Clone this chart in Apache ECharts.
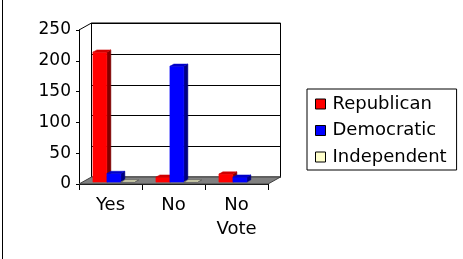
<!DOCTYPE html>
<html>
<head>
<meta charset="utf-8">
<script src="https://cdn.jsdelivr.net/npm/echarts@6/dist/echarts.min.js"></script>
<style>
html,body{margin:0;padding:0;background:#fff;}
#c{width:463px;height:259px;}
</style>
</head>
<body>
<div id="c"></div>
<script>
var categories = ['Yes', 'No', 'No Vote'];
var republican = [211, 8, 13];
var democratic = [14, 188, 8];
var independent = [0, 0, null];
var yTicks = [0, 50, 100, 150, 200, 250];
var seriesNames = ['Republican', 'Democratic', 'Independent'];

var FONT = 'DejaVu Sans';
var DEPTH = [12.5, -7];        // wall depth offset
var BAR_FRONT = 0.27;         // bar front position in depth
var BAR_DEPTH = 0.32;         // bar depth fraction
var BAR_W = 0.222;            // bar width fraction of category
var faces = [
  {front: '#FF0000', side: '#800000', top: '#D00000', stroke: null},
  {front: '#0000FF', side: '#000080', top: '#0000C8', stroke: null},
  {front: '#FFFFCC', side: '#C0C0A0', top: '#FFFFCC', stroke: '#606060'}
];

function wallsRender(params, api) {
  var catW = api.size([1, 0])[0];
  var p0 = api.coord([0, 0]);
  var pN = api.coord([categories.length - 1, 0]);
  var xl = p0[0] - catW / 2, xr = pN[0] + catW / 2;
  var y0 = p0[1];
  var yT = api.coord([0, yTicks[yTicks.length - 1]])[1];
  var dx = DEPTH[0], dy = DEPTH[1];
  var children = [];
  // back wall
  children.push({type: 'rect', shape: {x: xl + dx, y: yT + dy, width: xr - xl, height: y0 - yT},
    style: {fill: '#fff', stroke: '#000', lineWidth: 1}});
  // gridlines on back wall
  yTicks.forEach(function (t) {
    var y = Math.round(api.coord([0, t])[1] + dy) + 0.5;
    children.push({type: 'line', shape: {x1: xl + dx, y1: y, x2: xr + dx, y2: y},
      style: {stroke: '#000', lineWidth: 1}});
  });
  // left wall top edge
  children.push({type: 'line', shape: {x1: xl, y1: yT, x2: xl + dx, y2: yT + dy},
    style: {stroke: '#000', lineWidth: 1}});
  // floor
  children.push({type: 'polygon', shape: {points: [[xl, y0], [xr, y0], [xr + dx, y0 + dy], [xl + dx, y0 + dy]]},
    style: {fill: '#808080', stroke: '#404040', lineWidth: 1}});
  return {type: 'group', children: children, silent: true};
}

function makeBarRender(s) {
  return function (params, api) {
    var i = api.value(0);
    var v = api.value(1);
    if (v === null || isNaN(v)) return;
    var catW = api.size([1, 0])[0];
    var base = api.coord([i, 0]);
    var top = api.coord([i, v]);
    var bw = catW * BAR_W;
    var fx = DEPTH[0] * BAR_FRONT, fy = DEPTH[1] * BAR_FRONT;
    var ddx = DEPTH[0] * BAR_DEPTH, ddy = DEPTH[1] * BAR_DEPTH;
    var x0 = base[0] - 1.5 * bw + s * bw + fx;
    var x1 = x0 + bw;
    var yb = base[1] + fy;
    var yt = top[1] + fy;
    var f = faces[s];
    var st = f.stroke;
    var children = [];
    if (yb - yt > 0.5) {
      children.push({type: 'polygon', shape: {points: [[x1, yb], [x1 + ddx, yb + ddy], [x1 + ddx, yt + ddy], [x1, yt]]},
        style: {fill: f.side, stroke: st || f.side, lineWidth: st ? 1 : 0.5}});
      children.push({type: 'rect', shape: {x: x0, y: yt, width: bw, height: yb - yt},
        style: {fill: f.front, stroke: st || f.front, lineWidth: st ? 1 : 0.5}});
    }
    children.push({type: 'polygon', shape: {points: [[x0, yt], [x0 + ddx, yt + ddy], [x1 + ddx, yt + ddy], [x1, yt]]},
      style: {fill: f.top, stroke: st || f.top, lineWidth: st ? 1 : 0.5}});
    return {type: 'group', children: children};
  };
}

function toData(arr) {
  return arr.map(function (v, i) { return [i, v]; });
}

var chart = echarts.init(document.getElementById('c'), null, {renderer: 'canvas'});
var allSeries = [republican, democratic, independent];
var series = [{
  type: 'custom', name: '__walls', renderItem: wallsRender, data: [[0, 0]],
  silent: true, z: 1, animation: false
}];
allSeries.forEach(function (arr, s) {
  series.push({
    type: 'custom', name: seriesNames[s], renderItem: makeBarRender(s),
    data: toData(arr), z: 2 + s, animation: false,
    itemStyle: {color: faces[s].front}
  });
});

chart.setOption({
  animation: false,
  backgroundColor: '#fff',
  graphic: [{type: 'line', shape: {x1: 2.5, y1: 0, x2: 2.5, y2: 259}, style: {stroke: '#000', lineWidth: 1}, silent: true}],
  grid: {left: 79, top: 30, width: 189, height: 154, containLabel: false},
  xAxis: {
    type: 'category', data: categories,
    axisLine: {show: true, lineStyle: {color: '#000', width: 1}},
    axisTick: {show: true, length: 6, interval: 0, lineStyle: {color: '#000'}},
    axisLabel: {
      interval: 0, margin: 9, color: '#000', fontFamily: FONT, fontSize: 18, lineHeight: 24,
      formatter: function (v) { return v.replace(' ', '\n'); }
    },
    splitLine: {show: false}
  },
  yAxis: {
    type: 'value', min: 0, max: 250, interval: 50,
    axisLine: {show: true, lineStyle: {color: '#000', width: 1}},
    axisTick: {show: true, length: 3, lineStyle: {color: '#000'}},
    axisLabel: {margin: 8, color: '#000', fontFamily: FONT, fontSize: 17},
    splitLine: {show: false}
  },
  legend: {
    data: seriesNames,
    orient: 'vertical',
    left: 307, top: 89,
    padding: [5, 10, 3, 8],
    itemGap: 6.5,
    itemWidth: 10, itemHeight: 10,
    icon: 'rect',
    itemStyle: {borderColor: '#000', borderWidth: 1},
    borderColor: '#000', borderWidth: 1,
    textStyle: {color: '#000', fontFamily: FONT, fontSize: 18, lineHeight: 20, padding: [0, 0, 0, 2]}
  },
  series: series
});
</script>
</body>
</html>
